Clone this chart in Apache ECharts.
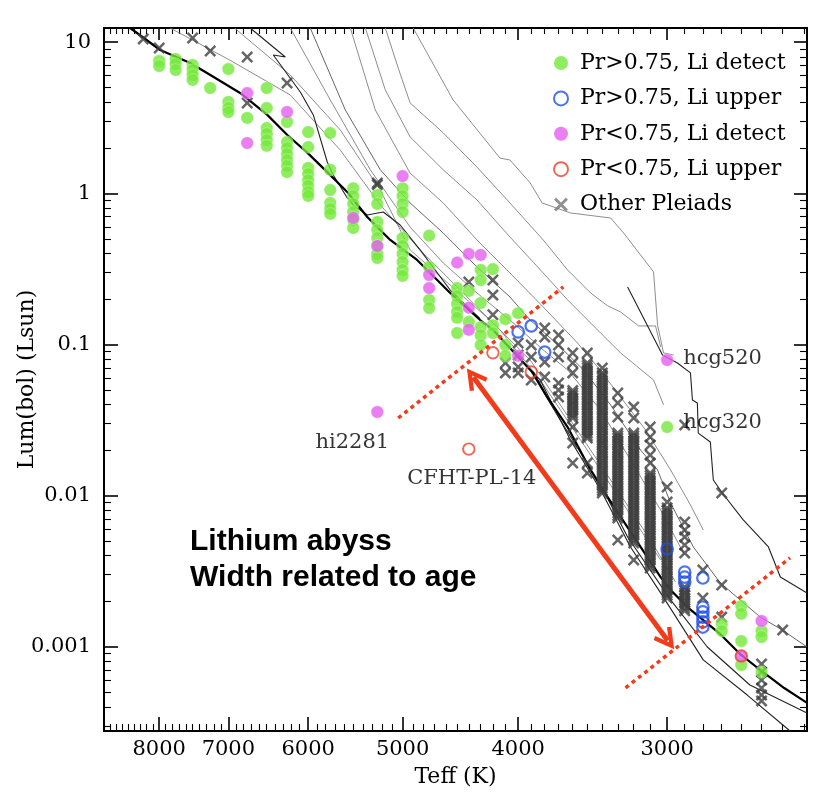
<!DOCTYPE html>
<html><head><meta charset="utf-8">
<script src="https://cdn.jsdelivr.net/npm/echarts@6/dist/echarts.min.js"></script>
<style>html,body{margin:0;padding:0;background:#fff}#c{width:831px;height:799px}</style>
</head><body><div id="c"></div>
<script>
// ---------- tick labels ----------
const xTickLabels = [8000, 7000, 6000, 5000, 4000, 3000];
const yTickLabels = [0.001, 0.01, 0.1, 1, 10];

// ---------- points: [Teff, [Lum values...]] ----------
const prHiLiDetect = [
 [8000,[7.50,6.95]],
 [7750,[7.73,7.17,6.54]],
 [7500,[7.06,6.54,6.06,5.62]],
 [7250,[4.97]],
 [7000,[6.64,4.02,3.67,3.45]],
 [6750,[3.15]],
 [6500,[4.97,3.67,2.70,2.47,2.25,2.06]],
 [6250,[2.96,2.18,1.99,1.82,1.66,1.52,1.38]],
 [6000,[2.54,2.02,1.47,1.34,1.22,1.12,1.02,0.96]],
 [5750,[2.50,1.43,1.05,0.863,0.787,0.73]],
 [5500,[1.08,0.96,0.85,0.752,0.666,0.589]],
 [5250,[0.974,0.85,0.646,0.572,0.506,0.448,0.397,0.373]],
 [5000,[1.08,0.96,0.85,0.752,0.506,0.448,0.397,0.351,0.311,0.284]],
 [4750,[0.525,0.325,0.197,0.174]],
 [4500,[0.236,0.209,0.185,0.164,0.150,0.119]],
 [4400,[0.226,0.141]],
 [4300,[0.311,0.267,0.188,0.130,0.115,0.099]],
 [4200,[0.315,0.134,0.119]],
 [4100,[0.147,0.099,0.084]],
 [4000,[0.161]],
 [3000,[0.0284]],
 [2700,[0.00141,0.00127]],
 [2600,[0.00186,0.00165,0.00109,0.000757]],
 [2500,[0.00127,0.00116,0.00068]]
];
const prHiLiUpper = [
 [4000,[0.121]],[3900,[0.1325]],[3800,[0.089]],[3000,[0.00443]],
 [2900,[0.00312,0.00289,0.00268]],
 [2800,[0.00285,0.00183,0.0017,0.00157,0.00146,0.00135]]
];
const prLoLiDetect = [
 [6750,[4.60,2.15]],[6250,[3.45]],[5500,[0.686]],[5250,[0.448,0.0357]],[5000,[1.30]],
 [4750,[0.288,0.236]],[4500,[0.348]],[4400,[0.397,0.175,0.125]],[4300,[0.391]],
 [4000,[0.084]],[3000,[0.0789]],[2600,[0.000868]],[2500,[0.00148]]
];
const prLoLiUpper = [
 [4200,[0.088]],[3900,[0.0657]],[4400,[0.0203]],[2600,[0.000868]]
];
const otherPleiads = [
 [8250,[10.5]],[8000,[9.15]],[7500,[10.65]],[7250,[8.74]],[6750,[7.97,3.96]],[6250,[5.37]],[5250,[1.17,1.14]],
 [4400,[0.259]],[4200,[0.267,0.212,0.157]],
 [4100,[0.0754,0.0648]],
 [4000,[0.1022,0.0851,0.0709,0.0648]],
 [3900,[0.0992,0.0826,0.0582]],
 [3800,[0.1285,0.112,0.0766,0.0609]],
 [3700,[0.1155,0.0992,0.0826,0.0556,0.0499,0.0449]],
 [3600,[0.0878,0.0754,0.0648,0.0496,0.0477,0.0459,0.0442,0.0425,0.0410,0.0395,0.0380,0.0366,0.0352,0.0339,0.0326,0.0284,0.0223,0.01643]],
 [3500,[0.0878,0.0754,0.0726,0.0699,0.0673,0.0648,0.0624,0.0600,0.0578,0.0556,0.0535,0.0515,0.0496,0.0477,0.0459,0.0442,0.0425,0.0410,0.0395,0.0380,0.0366,0.0352,0.0339,0.0326,0.0314,0.0302,0.0291,0.0280,0.0270,0.0259,0.0249,0.0240,0.01643,0.01411]],
 [3400,[0.0699,0.0648,0.0624,0.0600,0.0578,0.0556,0.0535,0.0515,0.0496,0.0477,0.0459,0.0442,0.0425,0.0410,0.0395,0.0380,0.0366,0.0352,0.0339,0.0326,0.0314,0.0302,0.0291,0.0280,0.0270,0.0259,0.0249,0.0240,0.0231,0.0223,0.0215,0.0206,0.0198,0.0191,0.0184,0.0177,0.0170,0.01643,0.01582,0.01523,0.01466,0.01411,0.01358,0.01308,0.01259,0.01212,0.01167,0.01123,0.01081,0.0104]],
 [3300,[0.0477,0.0410,0.0331,0.0259,0.0249,0.0240,0.0231,0.0223,0.0215,0.0206,0.0198,0.0191,0.0184,0.0177,0.0170,0.01643,0.01582,0.01523,0.01466,0.01411,0.01358,0.01308,0.01259,0.01212,0.01167,0.01123,0.01081,0.0104,0.01001,0.00964,0.00928,0.00893,0.0086,0.00828,0.00797,0.00767,0.00738,0.00711,0.00508]],
 [3200,[0.0386,0.0326,0.0259,0.0249,0.0240,0.0231,0.0223,0.0215,0.0206,0.0198,0.0191,0.0184,0.0177,0.0170,0.01643,0.01582,0.01523,0.01466,0.01411,0.01358,0.01308,0.01259,0.01212,0.01167,0.01123,0.01081,0.0104,0.01001,0.00964,0.00928,0.00893,0.0086,0.00828,0.00797,0.00767,0.00738,0.00711,0.00684,0.00659,0.00634,0.00611,0.00588,0.00566,0.00545,0.00524,0.00504,0.00486,0.00375]],
 [3100,[0.0284,0.0244,0.0216,0.01856,0.01643,0.01411,0.01358,0.01308,0.01259,0.01212,0.01167,0.01123,0.01081,0.0104,0.01001,0.00964,0.00928,0.00893,0.0086,0.00828,0.00797,0.00767,0.00738,0.00711,0.00684,0.00659,0.00634,0.00611,0.00588,0.00566,0.00545,0.00524,0.00504,0.00486,0.00468,0.00450,0.00433,0.00417,0.00401,0.00387,0.00373,0.00358,0.00345,0.00332]],
 [3000,[0.0114,0.00907,0.00828,0.00797,0.00767,0.00738,0.00711,0.00684,0.00659,0.00634,0.00611,0.00588,0.00566,0.00545,0.00524,0.00504,0.00486,0.00468,0.00450,0.00433,0.00417,0.00401,0.00387,0.00373,0.00358,0.00345,0.00332,0.0032,0.00307,0.00296,0.00285,0.00274,0.00264,0.00254,0.00245,0.00236,0.00227,0.00219,0.00210]],
 [2900,[0.0293,0.00669,0.00592,0.00532,0.00471,0.00417,0.00248,0.00236,0.00227,0.00219,0.00210,0.00202,0.00195,0.00188,0.00180,0.00173]],
 [2800,[0.00322,0.00210]],
 [2700,[0.0104,0.00256,0.00157]],
 [2500,[0.000769,0.000681,0.000603,0.000533,0.000479,0.000438]],
 [2400,[0.00129]]
];
const starNames = [['hcg520',3000,0.0789],['hcg320',3000,0.0284],['hi2281',5250,0.0357],['CFHT-PL-14',4400,0.0203]];

// ---------- model curves: [Teff, Lum] ----------
const isoMain = [[8461,12.4],[7985,8.87],[7535,7.28],[7248,6.06],[6843,4.61],[6493,3.30],[6247,2.43],[6008,1.85],[5783,1.38],[5564,1.02],[5353,0.697],[5121,0.491],[4862,0.362],[4677,0.267],[4561,0.219],[4305,0.145],[4200,0.125],[3886,0.0648],[3782,0.0449],[3636,0.0284],[3478,0.01477],[3366,0.00979],[3282,0.00722],[3158,0.00457],[3038,0.00289],[2980,0.00237],[2885,0.00183],[2798,0.0015],[2707,0.00121],[2601,0.000882],[2500,0.000691],[2393,0.000533],[2290,0.000425]];
const isoOldA = [[3900,0.066],[3833,0.0582],[3616,0.0233],[3411,0.01089],[3220,0.00457],[3038,0.00227],[2798,0.000818],[2570,0.000479],[2366,0.000277]];
const isoOldB = [[3900,0.066],[3688,0.0316],[3411,0.01175],[3238,0.00532],[2980,0.00204],[2776,0.000996],[2557,0.000558],[2290,0.000364]];
const trackK1 = [[6711,12.4],[6271,7.97],[6418,8.22],[6092,4.68],[5941,3.30],[5783,1.61],[5716,1.32],[5564,0.931],[5499,0.837],[5353,0.719],[5190,0.752],[5024,0.617],[4834,0.422],[4561,0.229],[4305,0.148]];
const trackK2 = [[3238,0.240],[3027,0.0851],[2941,0.0754],[2868,0.0648],[2857,0.0429],[2830,0.0410],[2825,0.0259],[2760,0.0226],[2744,0.01268],[2697,0.0104],[2590,0.0069],[2467,0.00457],[2411,0.00289],[2290,0.00227]];
const isoG1 = [[4899,12.4],[4535,4.14],[4143,1.71],[4064,1.66],[3908,1.17],[3819,0.863],[3616,0.741],[3346,0.686],[3263,0.546],[3080,0.302],[3056,0.1345],[3021,0.0878],[2963,0.0851]];
const isoG2 = [[5170,12.4],[5043,6.75],[4928,3.96],[4623,2.51],[4331,1.49],[4064,0.863],[3811,0.491],[3636,0.311],[3478,0.219],[3366,0.180],[3282,0.164],[3170,0.1325],[3068,0.1325],[3038,0.0962]];
const isoG3 = [[5373,12.4],[5170,4.83],[4928,2.36],[4623,1.43],[4331,0.903],[4064,0.514],[3811,0.297],[3636,0.197],[3411,0.119],[3282,0.0878],[3080,0.0582],[3021,0.0398]];
const isoG4 = [[5531,12.4],[5271,3.56],[4928,1.36],[4623,0.863],[4331,0.491],[4064,0.297],[3811,0.177],[3567,0.1022],[3431,0.0709],[3302,0.0477],[3128,0.0272],[2980,0.01477],[2868,0.00867],[2798,0.00592]];
const isoG5 = [[5976,12.4],[5585,3.56],[5220,1.43],[4928,0.863],[4623,0.546],[4331,0.325],[4064,0.206],[3908,0.145],[3688,0.0962],[3526,0.0678],[3346,0.0398],[3158,0.0200],[3056,0.01477],[2980,0.00893],[2852,0.00457],[2707,0.00264],[2506,0.00157],[2402,0.00129],[2290,0.000996]];
const isoG6 = [[6211,12.4],[5749,4.14],[5322,1.43],[4928,0.598],[4623,0.346],[4331,0.219],[4064,0.145],[3811,0.0919],[3636,0.0678],[3411,0.0368],[3220,0.0172],[3038,0.00803],[2901,0.00405]];
const isoG7 = [[6917,12.4],[6211,6.06],[5639,2.62],[5220,1.05],[4928,0.422],[4561,0.247],[4223,0.145],[3908,0.0789],[3616,0.0316],[3346,0.01268],[3098,0.00508],[2952,0.00268]];
const isoG8 = [[7832,12.4],[6984,7.62],[6211,4.47],[5639,1.93],[5220,0.837],[4834,0.422],[4474,0.229],[4143,0.1247],[3833,0.0582],[3546,0.0233],[3282,0.00935],[3038,0.00375]];

// ---------- annotations ----------
const abyssEdgeHot = [[5043,0.0326],[3666,0.240]];
const abyssEdgeCool = [[3251,0.000534],[2366,0.00387]];
const abyssArrow = [[4361,0.0606],[2997,0.0011]];

// ---------- build ----------
const SERIF = 'DejaVu Serif';
const xMin = 2290, xMax = 8900, yMin = 0.000277, yMax = 12.4;
function flat(cols){ const o=[]; cols.forEach(c=>c[1].forEach(l=>o.push([c[0],l]))); return o; }
const xMinor=[]; for(let v=2300; v<=8900; v+=100){ if(v%1000!==0) xMinor.push(v); }
const yMinor=[]; [0.0001,0.001,0.01,0.1,1,10].forEach(d=>{ for(let k=2;k<=9;k++){ const v=+(d*k).toPrecision(3); if(v>yMin&&v<yMax) yMinor.push(v);} });

function xAx(pos, vals, len, lab){
  return {type:'log', logBase:10, min:xMin, max:xMax, inverse:true, position:pos,
    axisLine:{show:false}, splitLine:{show:false}, minorTick:{show:false},
    axisTick:{show:true, inside:true, length:len, customValues:vals, lineStyle:{color:'#000', width: len>10?1.6:1.1}},
    axisLabel:{show:lab, customValues:vals, formatter:v=>String(v), fontFamily:SERIF, fontSize:21, color:'#000', margin:8}};
}
function yAx(pos, vals, len, lab){
  return {type:'log', logBase:10, min:yMin, max:yMax, position:pos,
    axisLine:{show:false}, splitLine:{show:false}, minorTick:{show:false},
    axisTick:{show:true, inside:true, length:len, customValues:vals, lineStyle:{color:'#000', width: len>10?1.6:1.1}},
    axisLabel:{show:lab, customValues:vals, formatter:v=>String(v), fontFamily:SERIF, fontSize:21, color:'#000', margin:13}};
}
const xAxes=[xAx('bottom',xTickLabels,14,true), xAx('bottom',xMinor,7,false), xAx('top',xTickLabels,12,false), xAx('top',xMinor,6,false)];
Object.assign(xAxes[0], {name:'Teff (K)', nameLocation:'middle', nameGap:35, nameMoveOverlap:false, nameTextStyle:{fontFamily:SERIF, fontSize:22, color:'#000'}});
const yAxes=[yAx('left',yTickLabels,14,true), yAx('left',yMinor,7,false), yAx('right',yTickLabels,13,false), yAx('right',yMinor,7,false)];
Object.assign(yAxes[0], {name:'Lum(bol) (Lsun)', nameLocation:'middle', nameGap:66, nameMoveOverlap:false, nameRotate:90, nameTextStyle:{fontFamily:SERIF, fontSize:22, color:'#000'}});

const XPATH='path://M0,1.5L1.5,0L5,3.5L8.5,0L10,1.5L6.5,5L10,8.5L8.5,10L5,6.5L1.5,10L0,8.5L3.5,5Z';
const CHEVRON='path://M5,0L10,9L8.3,10L5,4L1.7,10L0,9Z';
const GREEN='#74e83b', MAG='#e55ff0', BLUE='#1f4fe8', RED='#e8442a', XCOL='#3f3f3f', ARW='#f23b1a';

function curve(data, color, width, z){ return {type:'line', data, symbol:'none', silent:true, z:z||1, lineStyle:{color, width}, clip:true}; }

const series = [
  curve(isoG1,'#808080',0.9), curve(isoG2,'#808080',0.9), curve(isoG3,'#808080',0.9), curve(isoG4,'#808080',0.9),
  curve(isoG5,'#555',0.9), curve(isoG6,'#808080',0.9), curve(isoG7,'#808080',0.9), curve(isoG8,'#808080',0.9),
  curve(trackK1,'#222',1.1), curve(trackK2,'#222',1.1),
  curve(isoOldA,'#222',1.1), curve(isoOldB,'#222',1.1),
  curve(isoMain,'#000',2.2,2),
  {name:'Other Pleiads', type:'scatter', data:flat(otherPleiads), symbol:XPATH, symbolSize:12, z:3, silent:true,
   itemStyle:{color:XCOL}},
  {name:'Pr>0.75, Li detect', type:'scatter', data:flat(prHiLiDetect), symbol:'circle', symbolSize:12.5, z:4, silent:true,
   itemStyle:{color:GREEN, borderColor:'rgba(255,255,255,0.6)', borderWidth:0.6}},
  {name:'Pr<0.75, Li detect', type:'scatter', data:flat(prLoLiDetect), symbol:'circle', symbolSize:12.5, z:5, silent:true,
   itemStyle:{color:MAG, borderColor:'rgba(255,255,255,0.6)', borderWidth:0.6}},
  {name:'Pr>0.75, Li upper', type:'scatter', data:flat(prHiLiUpper), symbol:'circle', symbolSize:11.5, z:6, silent:true,
   itemStyle:{color:'rgba(0,0,0,0)', borderColor:BLUE, borderWidth:2.2}},
  {name:'Pr<0.75, Li upper', type:'scatter', data:flat(prLoLiUpper), symbol:'circle', symbolSize:11.5, z:7, silent:true,
   itemStyle:{color:'rgba(0,0,0,0)', borderColor:RED, borderWidth:1.9}},
  {type:'line', data:abyssEdgeHot, symbol:'none', silent:true, z:8, lineStyle:{color:ARW, width:3.5, type:[4,4]}},
  {type:'line', data:abyssEdgeCool, symbol:'none', silent:true, z:8, lineStyle:{color:ARW, width:3.5, type:[4,4]}},
  {type:'line', data:[], silent:true, z:9,
   markLine:{silent:true, animation:false, symbol:[CHEVRON,CHEVRON], symbolSize:[22,22], label:{show:false},
     lineStyle:{color:ARW, width:5, type:'solid'}, emphasis:{disabled:true},
     data:[[{coord:abyssArrow[0]},{coord:abyssArrow[1]}]]}},
];
const labelOffsets = {'hcg520':{align:'left',offset:[16,-1]}, 'hcg320':{align:'left',offset:[16,-5]},
  'hi2281':{align:'center',offset:[-25,31]}, 'CFHT-PL-14':{align:'center',offset:[3,29]}};
series.push({type:'scatter', silent:true, z:10, symbolSize:1, itemStyle:{color:'rgba(0,0,0,0)'},
  data: starNames.map(s=>({value:[s[1],s[2]], name:s[0], label:{show:true, position:'inside', verticalAlign:'middle',
    align:labelOffsets[s[0]].align, offset:labelOffsets[s[0]].offset, formatter:s[0], fontFamily:SERIF, fontSize:21, color:'#000'}}))});

const chart = echarts.init(document.getElementById('c'), null, {renderer:'canvas'});
chart.setOption({
  animation:false,
  backgroundColor:'#fff',
  grid:{left:104, top:28, width:703, height:703, show:true, borderColor:'#000', borderWidth:2, backgroundColor:'transparent', outerBoundsMode:'none', containLabel:false},
  xAxis:xAxes, yAxis:yAxes,
  legend:{orient:'vertical', left:553, top:52, padding:0, itemGap:13.4, itemWidth:28, itemHeight:14, selectedMode:false,
    textStyle:{fontFamily:SERIF, fontSize:22, color:'#000', lineHeight:22},
    data:[
      {name:'Pr>0.75, Li detect', icon:'circle', itemStyle:{color:GREEN, borderWidth:0}},
      {name:'Pr>0.75, Li upper', icon:'circle', itemStyle:{color:'rgba(0,0,0,0)', borderColor:BLUE, borderWidth:2}},
      {name:'Pr<0.75, Li detect', icon:'circle', itemStyle:{color:MAG, borderWidth:0}},
      {name:'Pr<0.75, Li upper', icon:'circle', itemStyle:{color:'rgba(0,0,0,0)', borderColor:RED, borderWidth:2}},
      {name:'Other Pleiads', icon:XPATH, itemStyle:{color:'#777'}}
    ]},
  graphic:[
    {type:'text', silent:true, z:20, style:{x:190, y:542, text:'Lithium abyss', font:'bold 30px "Liberation Sans"', fill:'#000', verticalAlign:'middle'}},
    {type:'text', silent:true, z:20, style:{x:190, y:578, text:'Width related to age', font:'bold 30px "Liberation Sans"', fill:'#000', verticalAlign:'middle'}}
  ],
  series
});
</script></body></html>
